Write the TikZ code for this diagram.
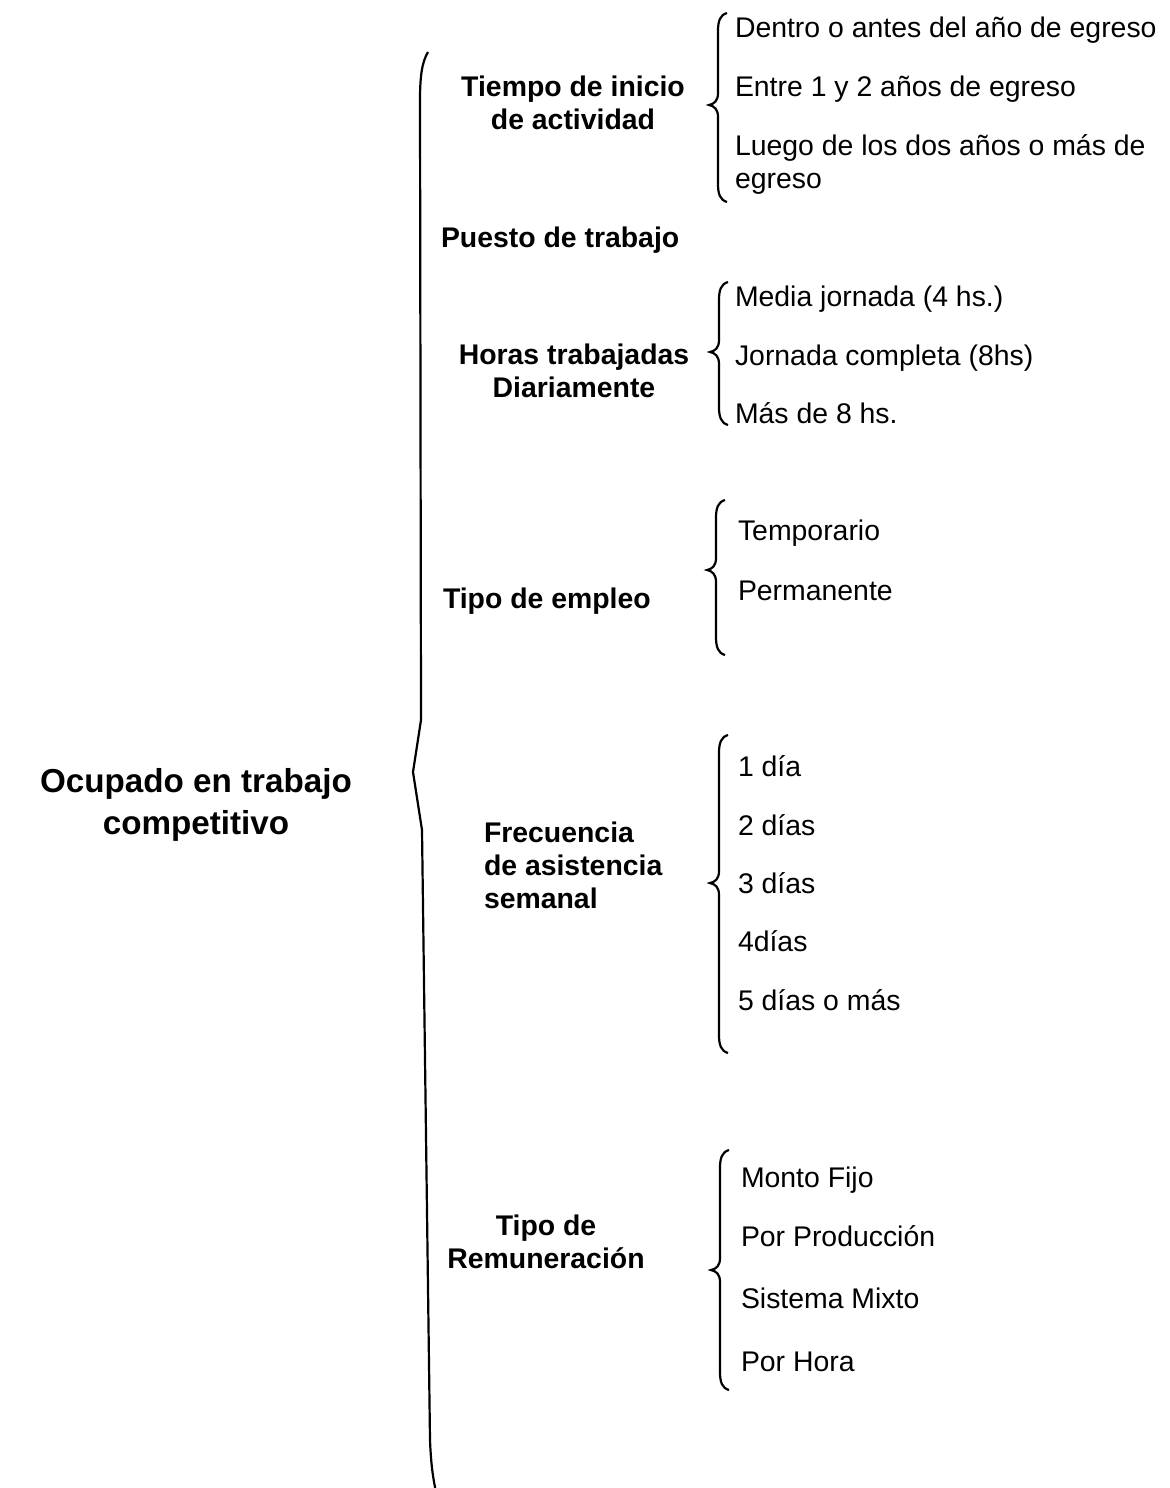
\documentclass[tikz,border=0pt]{standalone}
\usepackage{fontspec}
\setmainfont{Liberation Sans}
\usepackage{tikz}
\usetikzlibrary{positioning}

% llave: punta x, arriba, punta y, abajo (en px)
\newcommand{\llave}[4]{%
  \draw[line width=1.1pt] ({#1+18},{#2}) .. controls ({#1+11},{#2+2}) and ({#1+9},{#2+8}) .. ({#1+9},{#2+18})
    -- ({#1+9},{#3-12}) .. controls ({#1+9},{#3-4}) and ({#1+5},{#3-1}) .. ({#1},{#3})
    .. controls ({#1+5},{#3+1}) and ({#1+9},{#3+4}) .. ({#1+9},{#3+12})
    -- ({#1+9},{#4-18}) .. controls ({#1+9},{#4-8}) and ({#1+11},{#4-2}) .. ({#1+18},{#4});%
}

\begin{document}
\begin{tikzpicture}[x=0.5pt, y=-0.5pt,
  every node/.style={inner sep=0pt, outer sep=0pt},
  raiz/.style={font=\fontsize{16.6}{21}\selectfont\bfseries, align=center, anchor=base},
  cat/.style={font=\fontsize{14.2}{16.2}\selectfont\bfseries, align=center, anchor=base},
  catl/.style={font=\fontsize{14.2}{16.5}\selectfont\bfseries, align=left, anchor=base west},
  item/.style={font=\fontsize{14.2}{16.5}\selectfont, align=left, anchor=base west}]
  \path[use as bounding box] (0, 0) rectangle (1169, 1488);

%%%%%%%%%%%% raiz
  \node[raiz] (ocupado) at (196, 834) {Ocupado en trabajo\\competitivo};
  \draw[line width=1.1pt] (428,52) .. controls (422,62) and (420,76) .. (420,100)
    -- (421,720) -- (413,772) -- (422,830) -- (430,1440)
    .. controls (431,1465) and (433,1478) .. (436,1492);

%%%%%%%%%%%% Tiempo de inicio
  \node[cat] (tiempo) at (573, 129) {Tiempo de inicio\\de actividad};
  \llave{709}{13}{105}{202}
  \node[item] (dentro) at (735, 37) {Dentro o antes del año de egreso};
  \node[item] (entre) at (735, 96) {Entre 1 y 2 años de egreso};
  \node[item] (luego) at (735, 188) {Luego de los dos años o más de\\egreso};

%%%%%%%%%%%% Puesto
  \node[catl] (puesto) at (441, 247) {Puesto de trabajo};

%%%%%%%%%%%% Horas
  \node[cat] (horas) at (574, 397) {Horas trabajadas\\Diariamente};
  \llave{710}{282}{352}{425}
  \node[item] (media) at (735, 306) {Media jornada (4 hs.)};
  \node[item] (completa) at (735, 365) {Jornada completa (8hs)};
  \node[item] (mas) at (735, 423) {Más de 8 hs.};

%%%%%%%%%%%% Tipo de empleo
  \node[catl] (empleo) at (443, 608) {Tipo de empleo};
  \llave{707}{500}{570}{655}
  \node[item] (temp) at (738, 540) {Temporario};
  \node[item] (perm) at (738, 600) {Permanente};

%%%%%%%%%%%% Frecuencia
  \node[catl] (frec) at (484, 908) {Frecuencia\\de asistencia\\semanal};
  \llave{710}{735}{883}{1053}
  \node[item] (d1) at (738, 776) {1 día};
  \node[item] (d2) at (738, 835) {2 días};
  \node[item] (d3) at (738, 893) {3 días};
  \node[item] (d4) at (738, 951) {4días};
  \node[item] (d5) at (738, 1010) {5 días o más};

%%%%%%%%%%%% Remuneracion
  \node[cat] (remun) at (546, 1268) {Tipo de\\Remuneración};
  \llave{711}{1150}{1270}{1390}
  \node[item] (fijo) at (741, 1187) {Monto Fijo};
  \node[item] (prod) at (741, 1246) {Por Producción};
  \node[item] (mixto) at (741, 1308) {Sistema Mixto};
  \node[item] (hora) at (741, 1371) {Por Hora};
\end{tikzpicture}
\end{document}
